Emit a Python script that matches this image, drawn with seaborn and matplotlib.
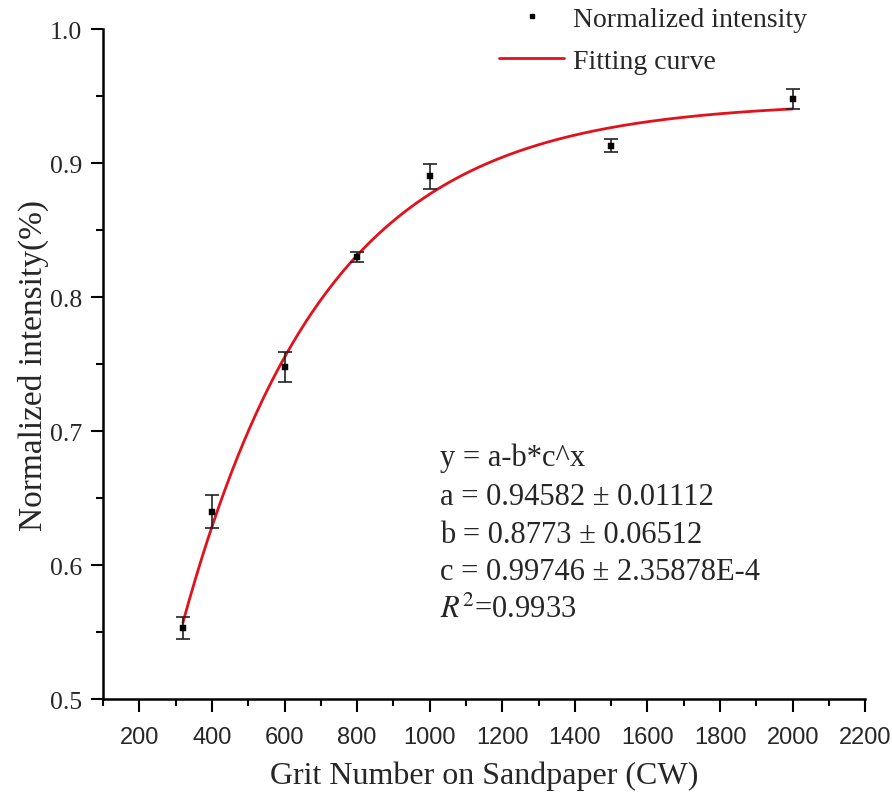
import numpy as np
import pandas as pd
import matplotlib
matplotlib.use("Agg")
import matplotlib.pyplot as plt
from matplotlib.ticker import MultipleLocator
from matplotlib.lines import Line2D
import seaborn as sns

# measured points (grit number vs normalized intensity) with error bars
grit = [320, 400, 600, 800, 1000, 1500, 2000]
intensity = [0.553, 0.640, 0.748, 0.830, 0.890, 0.913, 0.948]
err = [0.008, 0.012, 0.011, 0.004, 0.009, 0.005, 0.0075]

# fit parameters shown on the chart: y = a - b*c^x
fit_a = 0.94582
fit_b = 0.8773
fit_c = 0.99746

fit_lines = [
    "y = a-b*c^x",
    "a = 0.94582 \u00b1 0.01112",
    "b = 0.8773 \u00b1 0.06512",
    "c = 0.99746 \u00b1 2.35878E-4",
    "$R^2$=0.9933",
]

sns.set_style("ticks")
plt.rcParams['font.family'] = ['Liberation Serif', 'DejaVu Serif']
plt.rcParams['mathtext.fontset'] = 'stix'

df = pd.DataFrame({"grit": grit, "intensity": intensity, "err": err})
xf = np.linspace(min(grit), max(grit), 300)
fit_df = pd.DataFrame({"grit": xf, "fit": fit_a - fit_b * fit_c ** xf})

fig = plt.figure(figsize=(8.92, 8.03), dpi=100)
ax = fig.add_axes([0.1155, 0.128, 0.8545, 0.8346])

sns.lineplot(data=fit_df, x="grit", y="fit", color="#e3111b", linewidth=2.0, ax=ax)
ax.errorbar(df["grit"], df["intensity"], yerr=df["err"], fmt="none",
            ecolor="#222222", elinewidth=1.2, capsize=5, capthick=1.2, zorder=3)
sns.scatterplot(data=df, x="grit", y="intensity", marker="s", s=15,
                color="black", edgecolor="black", ax=ax, zorder=4)

ax.set_xlim(100, 2200)
ax.set_ylim(0.5, 1.0)
ax.xaxis.set_major_locator(MultipleLocator(200))
ax.xaxis.set_minor_locator(MultipleLocator(100))
ax.yaxis.set_major_locator(MultipleLocator(0.1))
ax.yaxis.set_minor_locator(MultipleLocator(0.05))
ax.set_xticks(range(200, 2201, 200))
ax.yaxis.set_major_formatter(matplotlib.ticker.FormatStrFormatter("%.1f"))

for s in ["left", "bottom"]:
    ax.spines[s].set_linewidth(1.8)
    ax.spines[s].set_color("black")
sns.despine(ax=ax)

ax.tick_params(axis="both", which="major", direction="out", length=9, width=1.5, color="black")
ax.tick_params(axis="both", which="minor", direction="out", length=5, width=1.5, color="black")
ax.tick_params(axis="y", which="major", labelsize=18.5, pad=6)
ax.tick_params(axis="x", which="major", labelsize=17, pad=10)
for lab in ax.get_xticklabels():
    lab.set_family(["Liberation Sans", "DejaVu Sans"])

ax.set_xlabel("Grit Number on Sandpaper (CW)", fontsize=23, labelpad=9)
ax.set_ylabel("Normalized intensity(%)", fontsize=24, labelpad=1)

ypos = [0.361, 0.303, 0.246, 0.190, 0.134]
for t, yy in zip(fit_lines, ypos):
    ax.text(0.442, yy, t, transform=ax.transAxes, fontsize=22, va="center", ha="left")

handles = [
    Line2D([], [], marker="s", markersize=3.2, color="black", linestyle="none"),
    Line2D([], [], color="#e3111b", linewidth=2.0),
]
ax.legend(handles, ["Normalized intensity", "Fitting curve"], loc="upper left",
          bbox_to_anchor=(0.505, 1.05), frameon=False, fontsize=20,
          handlelength=2.35, handletextpad=0.3, labelspacing=0.6, borderaxespad=0)

fig.savefig("out.png", dpi=100)
